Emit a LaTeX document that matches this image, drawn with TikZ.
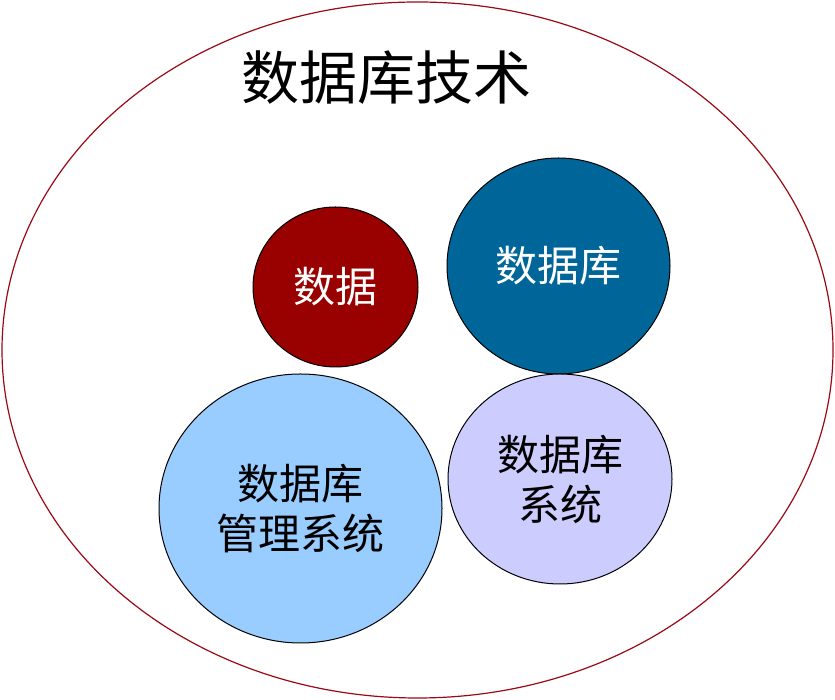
\documentclass[tikz,border=0pt]{standalone}
\usepackage{fontspec}
\setmainfont{Noto Sans CJK SC}
\usetikzlibrary{shapes.geometric}
\definecolor{outerred}{HTML}{990A14}
\definecolor{datared}{HTML}{990000}
\definecolor{dbblue}{HTML}{006699}
\definecolor{dbmslight}{HTML}{99CCFF}
\definecolor{dbslav}{HTML}{CCCCFF}
\tikzset{
  x=1pt,y=1pt,
  blob/.style={ellipse, draw=black, line width=1pt, inner sep=0pt, align=center, font=\fontsize{42}{50}\selectfont},
}
\begin{document}
\begin{tikzpicture}
\useasboundingbox (0,0) rectangle (835,700);
\node[ellipse, draw=outerred, line width=1.2pt, minimum width=831pt, minimum height=696pt, inner sep=0pt] (outer) at (417.5,350) {};
\node[font=\fontsize{58}{66}\selectfont] (title) at (386,622) {数据库技术};
\node[blob, fill=datared, text=white, minimum width=165pt, minimum height=160pt] (data) at (335.5,413) {数据};
\node[blob, fill=dbblue, text=white, minimum width=223pt, minimum height=216pt] (db) at (558.5,434) {数据库};
\node[blob, fill=dbmslight, text=black, minimum width=283pt, minimum height=269pt] (dbms) at (300.5,191.5) {数据库\\管理系统};
\node[blob, fill=dbslav, text=black, minimum width=224pt, minimum height=210pt] (dbs) at (560,221) {数据库\\系统};
\end{tikzpicture}
\end{document}
